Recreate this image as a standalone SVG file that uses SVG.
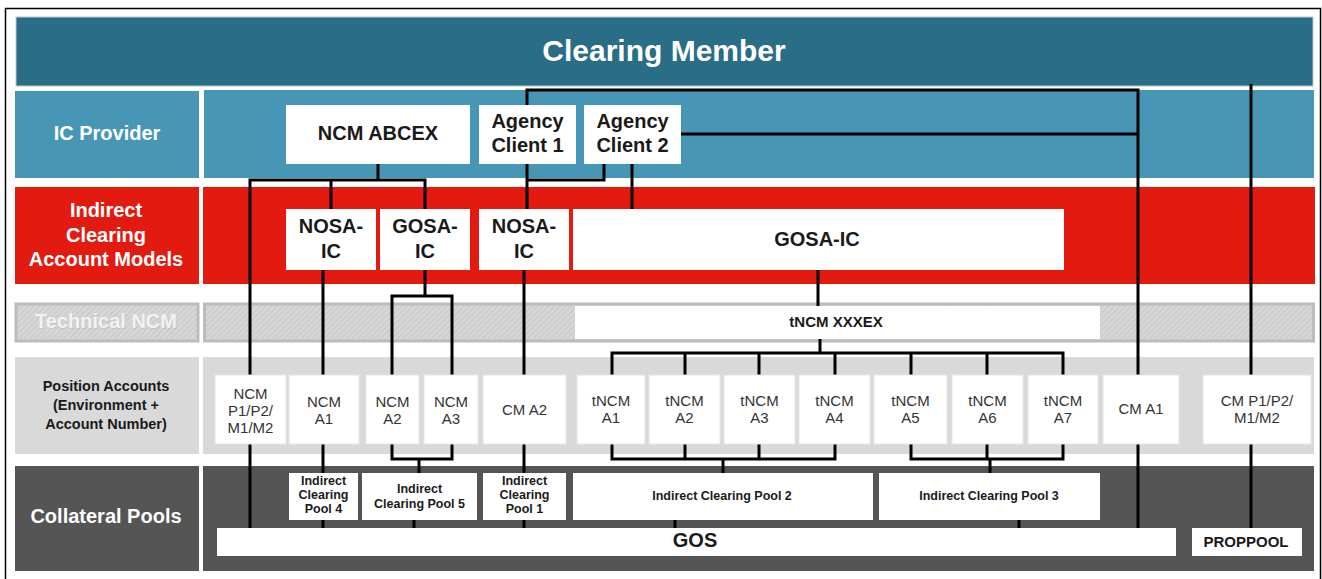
<svg xmlns="http://www.w3.org/2000/svg" width="1322" height="579" viewBox="0 0 1322 579">
<defs>
<pattern id="hatch" patternUnits="userSpaceOnUse" width="4" height="4" patternTransform="rotate(45)">
<rect width="4" height="4" fill="#d6d6d6"/>
<line x1="0" y1="0" x2="0" y2="4" stroke="#c4c4c4" stroke-width="1.5"/>
</pattern>
<style>
.lbl{font-family:"Liberation Sans",Arial,sans-serif;font-weight:bold;text-anchor:middle}
.w{fill:#ffffff}
.k{fill:#1a1a1a}
.n{font-family:"Liberation Sans",Arial,sans-serif;font-size:15px;fill:#333333;text-anchor:middle}
.box{fill:#ffffff}
.pbox{fill:#ffffff;stroke:#e6e6e6;stroke-width:1}
.conn{fill:none;stroke:#000000;stroke-width:3;stroke-linejoin:miter}
</style>
</defs>
<rect x="0" y="0" width="1322" height="579" fill="#ffffff"/>
<rect x="5.5" y="8.5" width="1315" height="580" fill="none" stroke="#000000" stroke-width="1.5"/>

<g id="bands">
<rect x="16" y="17" width="1297" height="69" fill="#296d86" stroke="#b9c7cd" stroke-width="1"/>
<rect x="15" y="91" width="184" height="87" fill="#4896b5"/>
<rect x="204" y="90" width="1110" height="88" fill="#4896b5"/>
<rect x="15" y="187" width="184" height="97" fill="#e31a10"/>
<rect x="203" y="187" width="1112" height="97" fill="#e31a10"/>
<rect x="16" y="304" width="182" height="37" fill="url(#hatch)" stroke="#bcbcbc" stroke-width="3"/>
<rect x="204.5" y="304" width="1109" height="37" fill="url(#hatch)" stroke="#bcbcbc" stroke-width="3"/>
<rect x="15" y="357" width="184" height="97" fill="#d9d9d9"/>
<rect x="203" y="357" width="1111" height="97" fill="#d9d9d9"/>
<rect x="15" y="466" width="184" height="105" fill="#555555"/>
<rect x="203" y="466" width="1111" height="105" fill="#555555"/>
<text class="lbl w" x="664" y="61" font-size="30">Clearing Member</text>
<text class="lbl w" x="107" y="140" font-size="20">IC Provider</text>
<text class="lbl w" x="106" y="217" font-size="20">Indirect</text>
<text class="lbl w" x="106" y="242" font-size="20">Clearing</text>
<text class="lbl w" x="106" y="266" font-size="20">Account Models</text>
<text class="lbl" x="106.7" y="328.7" font-size="20" fill="#c2c2c2">Technical NCM</text>
<text class="lbl" x="106" y="328" font-size="20" fill="#f2f2f2">Technical NCM</text>
<text class="lbl k" x="106" y="391" font-size="14.5">Position Accounts</text>
<text class="lbl k" x="106" y="410" font-size="14.5">(Environment +</text>
<text class="lbl k" x="106" y="429" font-size="14.5">Account Number)</text>
<text class="lbl w" x="106" y="523" font-size="20">Collateral Pools</text>
</g>

<g id="connectors">
<path class="conn" d="M250 528 V180 H425 V209 M378 164 V180 M331 180 V209"/>
<path class="conn" d="M527 209 V90 H1138 V528"/>
<path class="conn" d="M681 134 H1138"/>
<path class="conn" d="M604 164 V180 H527"/>
<path class="conn" d="M632 164 V209"/>
<path class="conn" d="M1251 84 V528"/>
<path class="conn" d="M323 270 V528"/>
<path class="conn" d="M524 270 V528"/>
<path class="conn" d="M425 270 V296 M392 375 V296 H452 V375"/>
<path class="conn" d="M392 444 V459 H452 V444 M419 459 V473 M414 520 V528"/>
<path class="conn" d="M818 270 V306 M820 339 V353 M612 375 V353 H1063 V375 M685 353 V375 M759 353 V375 M835 353 V375 M911 353 V375 M987 353 V375"/>
<path class="conn" d="M612 444 V459 H835 V444 M685 444 V459 M759 444 V459 M723 459 V473 M675 520 V528"/>
<path class="conn" d="M911 444 V459 H1063 V444 M987 444 V459 M990 459 V473 M1019 520 V528"/>
</g>

<g id="ncm-abcex"><rect class="box" x="286" y="105" width="184" height="59"/><text class="lbl k" x="378" y="140" font-size="20">NCM ABCEX</text></g>
<g id="agency-client-1"><rect class="box" x="479" y="105" width="97" height="59"/><text class="lbl k" x="527.5" y="128" font-size="20">Agency</text><text class="lbl k" x="527.5" y="152" font-size="20">Client 1</text></g>
<g id="agency-client-2"><rect class="box" x="584" y="105" width="97" height="59"/><text class="lbl k" x="632.5" y="128" font-size="20">Agency</text><text class="lbl k" x="632.5" y="152" font-size="20">Client 2</text></g>

<g id="nosa-ic-1"><rect class="box" x="286" y="209" width="90" height="61"/><text class="lbl k" x="331" y="233" font-size="20">NOSA-</text><text class="lbl k" x="331" y="258" font-size="20">IC</text></g>
<g id="gosa-ic-1"><rect class="box" x="380" y="209" width="90" height="61"/><text class="lbl k" x="425" y="233" font-size="20">GOSA-</text><text class="lbl k" x="425" y="258" font-size="20">IC</text></g>
<g id="nosa-ic-2"><rect class="box" x="479" y="209" width="90" height="61"/><text class="lbl k" x="524" y="233" font-size="20">NOSA-</text><text class="lbl k" x="524" y="258" font-size="20">IC</text></g>
<g id="gosa-ic-2"><rect class="box" x="573" y="209" width="491" height="61"/><text class="lbl k" x="817" y="246" font-size="20">GOSA-IC</text></g>

<g id="tncm-xxxex"><rect class="box" x="575" y="306" width="525" height="33"/><text class="lbl k" x="836" y="327" font-size="15">tNCM XXXEX</text></g>

<g id="ncm-p"><rect class="pbox" x="215" y="375" width="71" height="69"/><text class="n" x="250.5" y="399">NCM</text><text class="n" x="250.5" y="416">P1/P2/</text><text class="n" x="250.5" y="433">M1/M2</text></g>
<g id="ncm-a1"><rect class="pbox" x="289" y="375" width="70" height="69"/><text class="n" x="324" y="407">NCM</text><text class="n" x="324" y="424">A1</text></g>
<g id="ncm-a2"><rect class="pbox" x="366" y="375" width="53" height="69"/><text class="n" x="392.5" y="407">NCM</text><text class="n" x="392.5" y="424">A2</text></g>
<g id="ncm-a3"><rect class="pbox" x="424" y="375" width="54" height="69"/><text class="n" x="451" y="407">NCM</text><text class="n" x="451" y="424">A3</text></g>
<g id="cm-a2"><rect class="pbox" x="483" y="375" width="83" height="69"/><text class="n" x="524.5" y="415">CM A2</text></g>
<g id="tncm-a1"><rect class="pbox" x="577" y="375" width="68" height="69"/><text class="n" x="611" y="406">tNCM</text><text class="n" x="611" y="423">A1</text></g>
<g id="tncm-a2"><rect class="pbox" x="649" y="375" width="71" height="69"/><text class="n" x="684.5" y="406">tNCM</text><text class="n" x="684.5" y="423">A2</text></g>
<g id="tncm-a3"><rect class="pbox" x="724" y="375" width="71" height="69"/><text class="n" x="759.5" y="406">tNCM</text><text class="n" x="759.5" y="423">A3</text></g>
<g id="tncm-a4"><rect class="pbox" x="799" y="375" width="71" height="69"/><text class="n" x="834.5" y="406">tNCM</text><text class="n" x="834.5" y="423">A4</text></g>
<g id="tncm-a5"><rect class="pbox" x="874" y="375" width="73" height="69"/><text class="n" x="910.5" y="406">tNCM</text><text class="n" x="910.5" y="423">A5</text></g>
<g id="tncm-a6"><rect class="pbox" x="952" y="375" width="71" height="69"/><text class="n" x="987.5" y="406">tNCM</text><text class="n" x="987.5" y="423">A6</text></g>
<g id="tncm-a7"><rect class="pbox" x="1028" y="375" width="70" height="69"/><text class="n" x="1063" y="406">tNCM</text><text class="n" x="1063" y="423">A7</text></g>
<g id="cm-a1"><rect class="pbox" x="1103" y="375" width="76" height="69"/><text class="n" x="1141" y="414">CM A1</text></g>
<g id="cm-p"><rect class="pbox" x="1203" y="375" width="108" height="69"/><text class="n" x="1257" y="406">CM P1/P2/</text><text class="n" x="1257" y="423">M1/M2</text></g>

<g id="pool-4"><rect class="box" x="289" y="473" width="69" height="47"/><text class="lbl k" x="323.5" y="485" font-size="12.5">Indirect</text><text class="lbl k" x="323.5" y="499" font-size="12.5">Clearing</text><text class="lbl k" x="323.5" y="513" font-size="12.5">Pool 4</text></g>
<g id="pool-5"><rect class="box" x="362" y="473" width="115" height="47"/><text class="lbl k" x="419.5" y="493" font-size="12.5">Indirect</text><text class="lbl k" x="419.5" y="508" font-size="12.5">Clearing Pool 5</text></g>
<g id="pool-1"><rect class="box" x="483" y="473" width="83" height="47"/><text class="lbl k" x="524.5" y="485" font-size="12.5">Indirect</text><text class="lbl k" x="524.5" y="499" font-size="12.5">Clearing</text><text class="lbl k" x="524.5" y="513" font-size="12.5">Pool 1</text></g>
<g id="pool-2"><rect class="box" x="573" y="473" width="300" height="47"/><text class="lbl k" x="722" y="500" font-size="12.5">Indirect Clearing Pool 2</text></g>
<g id="pool-3"><rect class="box" x="879" y="473" width="221" height="47"/><text class="lbl k" x="989" y="500" font-size="12.5">Indirect Clearing Pool 3</text></g>
<g id="gos"><rect class="box" x="217" y="528" width="959" height="28"/><text class="lbl k" x="695" y="547" font-size="20">GOS</text></g>
<g id="proppool"><rect class="box" x="1192" y="528" width="110" height="28"/><text class="lbl k" x="1246" y="547" font-size="15">PROPPOOL</text></g>
</svg>
